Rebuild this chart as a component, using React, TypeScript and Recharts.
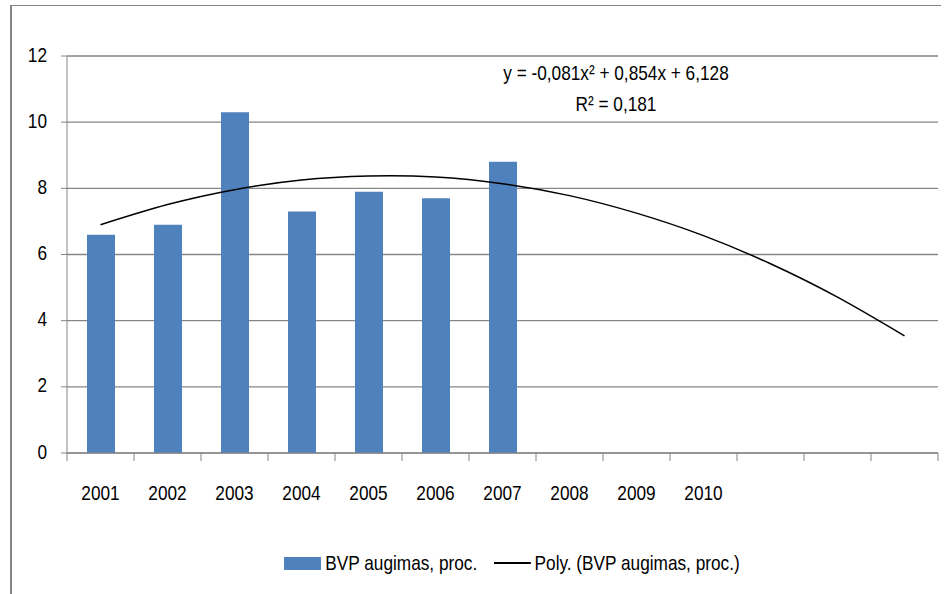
import { Bar, Line, XAxis, YAxis, CartesianGrid, Legend, ComposedChart } from "recharts";

// periods 1..13 (Excel trendline forecast runs 3 periods past 2010)
const periods = [1, 2, 3, 4, 5, 6, 7, 8, 9, 10, 11, 12, 13];
const yearLabels = ["2001", "2002", "2003", "2004", "2005", "2006", "2007", "2008", "2009", "2010"];
const growth = [6.6, 6.9, 10.3, 7.3, 7.9, 7.7, 8.8];
// polynomial trend (y = -0,081x² + 0,854x + 6,128)
const trend = [6.9, 7.51, 7.96, 8.25, 8.37, 8.34, 8.14, 7.78, 7.25, 6.57, 5.72, 4.71, 3.54];
const yTicks = [0, 2, 4, 6, 8, 10, 12];

const FONT = "'Liberation Sans', Arial, sans-serif";
const SQUISH = 0.82; // reference font is a narrow Calibri-like face
const GRID = "#868686";
const BLUE = "#4F81BD";

const rows = periods.map((p, i) => ({ p, growth: growth[i], trend: trend[i] }));

function NarrowText({ x, y, anchor, children }: any) {
  return (
    <text
      transform={`translate(${x},${y}) scale(${SQUISH},1)`}
      textAnchor={anchor}
      dominantBaseline="middle"
      fontSize={21}
      fill="#000"
      fontFamily={FONT}
    >
      {children}
    </text>
  );
}

function YearTick(props: any) {
  const { x, y, payload, index } = props;
  const half = payload?.offset ?? 0;
  const label = yearLabels[index] ?? "";
  return (
    <g>
      <line x1={x - half} x2={x - half} y1={y} y2={y + 8} stroke={GRID} />
      {index === periods.length - 1 && <line x1={x + half} x2={x + half} y1={y} y2={y + 8} stroke={GRID} />}
      <NarrowText x={x} y={y + 41} anchor="middle">{label}</NarrowText>
    </g>
  );
}

function ValueTick(props: any) {
  const { x, y, payload } = props;
  return <NarrowText x={x} y={y} anchor="end">{payload.value}</NarrowText>;
}

function LegendBox(props: any) {
  const items = props.payload ?? [];
  return (
    <div style={{ display: "flex", justifyContent: "center", alignItems: "center", height: 30, fontFamily: FONT, fontSize: 21, color: "#000", transform: `translateX(38px) scaleX(${SQUISH})`, transformOrigin: "center" }}>
      {items.map((it: any, i: number) => (
        <div key={it.value} style={{ display: "flex", alignItems: "center", marginLeft: i ? 20 : 0 }}>
          {it.type === "line" ? (
            <span style={{ display: "inline-block", width: 45, height: 2, background: "#000", marginRight: 5 }} />
          ) : (
            <span style={{ display: "inline-block", width: 45, height: 13, background: BLUE, marginRight: 5 }} />
          )}
          <span>{it.value}</span>
        </div>
      ))}
    </div>
  );
}

export default function App() {
  return (
    <div style={{ position: "absolute", left: 0, top: 0, width: 950, height: 594, background: "#fff" }}>
      <div style={{ position: "absolute", left: 10, top: 5, right: 9, bottom: 0, borderLeft: `2px solid ${GRID}`, borderTop: `1px solid ${GRID}` }} />
      <ComposedChart width={950} height={594} data={rows} margin={{ top: 56, right: 12, bottom: 16, left: 10 }}>
        <CartesianGrid vertical={false} stroke={GRID} strokeWidth={1.3} />
        <XAxis dataKey="p" interval={0} tickSize={0} tickMargin={0} tickLine={false} stroke={GRID} height={95} tick={<YearTick />} />
        <YAxis domain={[0, 12]} ticks={yTicks} width={57} stroke={GRID} tickSize={6} tickMargin={14} tick={<ValueTick />} />
        <Legend verticalAlign="bottom" content={<LegendBox />} />
        <Bar dataKey="growth" name="BVP augimas, proc." fill={BLUE} barSize={28} isAnimationActive={false} legendType="rect" />
        <Line dataKey="trend" name="Poly. (BVP augimas, proc.)" type="natural" stroke="#000" strokeWidth={1.5} dot={false} activeDot={false} isAnimationActive={false} legendType="line" />
      </ComposedChart>
      <div style={{ position: "absolute", left: 440, width: 352, top: 57, textAlign: "center", fontFamily: FONT, fontSize: 21, lineHeight: "31px", color: "#000", transform: `scaleX(${SQUISH})`, transformOrigin: "center" }}>
        <div>y = -0,081x² + 0,854x + 6,128</div>
        <div>R² = 0,181</div>
      </div>
    </div>
  );
}
